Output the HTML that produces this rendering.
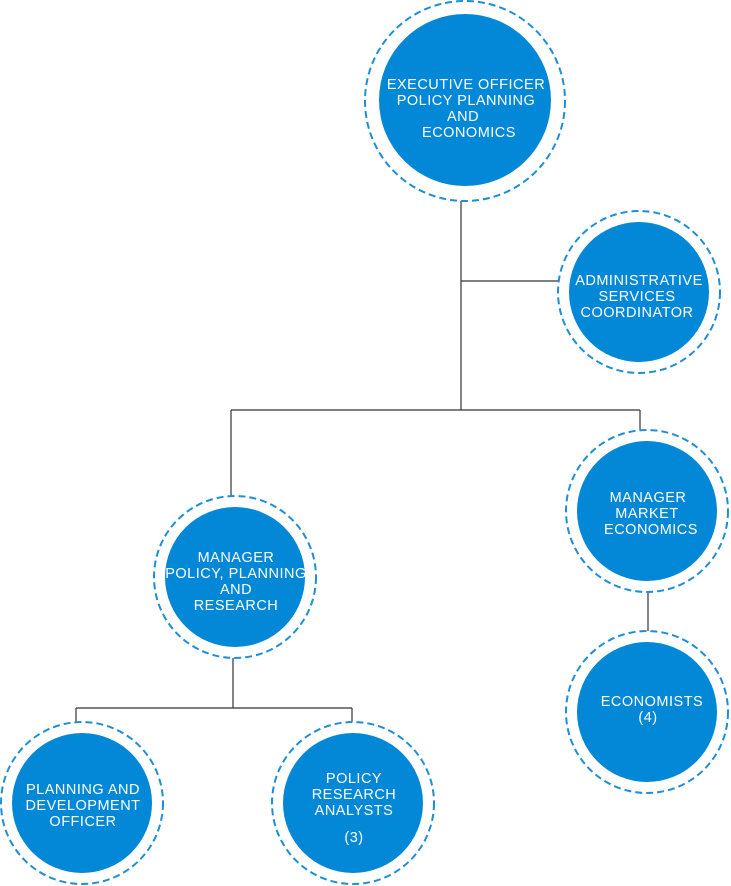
<!DOCTYPE html>
<html><head><style>html,body{margin:0;padding:0;background:#fff}svg{display:block}</style></head>
<body>
<svg width="731" height="886" xmlns="http://www.w3.org/2000/svg" font-family="Liberation Sans, sans-serif" font-size="14.5" letter-spacing="0.5" fill="#fff">
<g stroke="#333" stroke-width="1.2" fill="none">
<line x1="461" y1="186" x2="461" y2="410"/>
<line x1="461" y1="281" x2="560" y2="281"/>
<line x1="231" y1="410" x2="640" y2="410"/>
<line x1="231" y1="410" x2="231" y2="500"/>
<line x1="640" y1="410" x2="640" y2="440"/>
<line x1="648" y1="580" x2="648" y2="642"/>
<line x1="233" y1="652" x2="233" y2="708"/>
<line x1="76" y1="708" x2="352" y2="708"/>
<line x1="76" y1="708" x2="76" y2="735"/>
<line x1="352" y1="708" x2="352" y2="735"/>
</g>
<g fill="#fff" stroke="#1e8fd6" stroke-width="2" stroke-dasharray="7 4">
<circle cx="465" cy="101" r="100"/>
<circle cx="639" cy="292" r="81"/>
<circle cx="235" cy="577" r="81"/>
<circle cx="647" cy="511" r="81"/>
<circle cx="647" cy="712" r="81"/>
<circle cx="82" cy="803" r="81"/>
<circle cx="353" cy="803" r="81"/>
</g>
<g fill="#0288d6">
<circle cx="465" cy="100" r="86"/>
<circle cx="639" cy="292" r="70"/>
<circle cx="235" cy="577" r="70"/>
<circle cx="647" cy="511" r="70"/>
<circle cx="647" cy="712" r="70"/>
<circle cx="82" cy="803" r="70"/>
<circle cx="353" cy="803" r="70"/>
</g>
<g text-anchor="middle">
<text x="466" y="89">EXECUTIVE OFFICER</text>
<text x="466" y="105">POLICY PLANNING</text>
<text x="463" y="121">AND</text>
<text x="469" y="137">ECONOMICS</text>
<text x="639" y="285">ADMINISTRATIVE</text>
<text x="637" y="301">SERVICES</text>
<text x="637" y="317">COORDINATOR</text>
<text x="236" y="562">MANAGER</text>
<text x="236" y="578">POLICY, PLANNING</text>
<text x="236" y="594">AND</text>
<text x="236" y="610">RESEARCH</text>
<text x="648" y="502">MANAGER</text>
<text x="647" y="518">MARKET</text>
<text x="651" y="534">ECONOMICS</text>
<text x="652" y="706">ECONOMISTS</text>
<text x="648" y="722">(4)</text>
<text x="83" y="794">PLANNING AND</text>
<text x="83" y="810">DEVELOPMENT</text>
<text x="83" y="826">OFFICER</text>
<text x="354" y="783">POLICY</text>
<text x="354" y="799">RESEARCH</text>
<text x="354" y="815">ANALYSTS</text>
<text x="354" y="842">(3)</text>
</g>
</svg>
</body></html>
